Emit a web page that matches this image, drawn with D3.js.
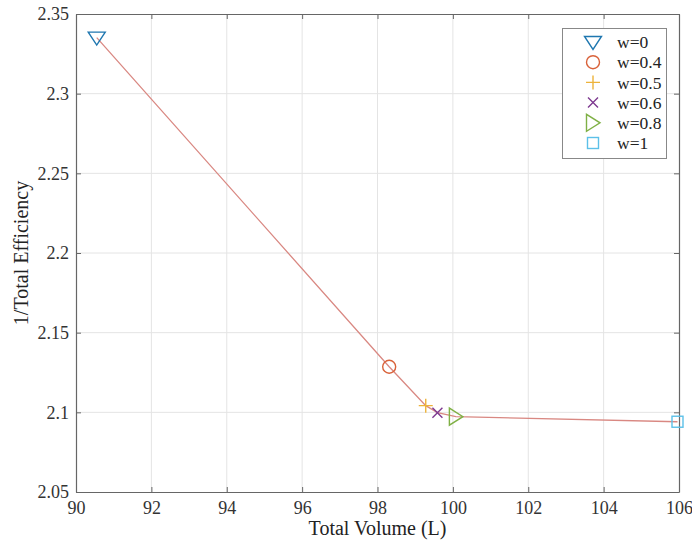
<!DOCTYPE html>
<html>
<head>
<meta charset="utf-8">
<script src="https://cdn.jsdelivr.net/npm/d3@7"></script>
<style>
  html, body { margin: 0; padding: 0; background: #fff; }
  svg { display: block; font-family: "Liberation Serif", "Times New Roman", serif; }
</style>
</head>
<body>
<svg id="chart" width="692" height="546"></svg>
<script>
// Pareto trade-off between total volume and inverse efficiency for each weight
const weights = ["w=0", "w=0.4", "w=0.5", "w=0.6", "w=0.8", "w=1"];
const volumes = [90.55, 98.31, 99.28, 99.59, 100.08, 105.96];
const invEff = [2.3352, 2.1286, 2.1042, 2.0998, 2.0973, 2.0941];
const xTicks = [90, 92, 94, 96, 98, 100, 102, 104, 106];
const yTicks = [2.05, 2.1, 2.15, 2.2, 2.25, 2.3, 2.35];

const markerShapes = ["triDown", "circle", "plus", "cross", "triRight", "square"];
const markerColors = ["#1f77b0", "#d9623a", "#edb33a", "#7e3a90", "#7fb045", "#5cc0e8"];

const svg = d3.select("#chart");
const plotL = 76, plotR = 679, plotT = 14, plotB = 492;

const x = d3.scaleLinear().domain([90, 106]).range([plotL, plotR]);
const y = d3.scaleLinear().domain([2.05, 2.35]).range([plotB, plotT]);

// grid
const grid = svg.append("g").attr("stroke", "#e4e4e4").attr("stroke-width", 1);
grid.selectAll(".gx").data(xTicks.slice(1, -1)).join("line")
  .attr("x1", d => x(d)).attr("x2", d => x(d)).attr("y1", plotT).attr("y2", plotB);
grid.selectAll(".gy").data(yTicks.slice(1, -1)).join("line")
  .attr("y1", d => y(d)).attr("y2", d => y(d)).attr("x1", plotL).attr("x2", plotR);

// axes with inward ticks on all four sides
const tickLen = 5;
const axisStyle = g => {
  g.select(".domain").attr("stroke", "#666").attr("stroke-width", 1.2);
  g.selectAll(".tick line").attr("stroke", "#666");
  g.selectAll(".tick text").attr("fill", "#333").style("font-size", "18px")
    .style("font-family", "'Liberation Serif', 'Times New Roman', serif");
};
svg.append("g").attr("transform", `translate(0,${plotB})`)
  .call(d3.axisBottom(x).tickValues(xTicks).tickFormat(d3.format("d"))
    .tickSizeInner(-tickLen).tickSizeOuter(0).tickPadding(9))
  .call(axisStyle);
svg.append("g").attr("transform", `translate(0,${plotT})`)
  .call(d3.axisTop(x).tickValues(xTicks).tickFormat("")
    .tickSizeInner(-tickLen).tickSizeOuter(0))
  .call(axisStyle);
svg.append("g").attr("transform", `translate(${plotL},0)`)
  .call(d3.axisLeft(y).tickValues(yTicks).tickFormat(d => String(+d.toFixed(2)))
    .tickSizeInner(-tickLen).tickSizeOuter(0).tickPadding(7))
  .call(axisStyle);
svg.append("g").attr("transform", `translate(${plotR},0)`)
  .call(d3.axisRight(y).tickValues(yTicks).tickFormat("")
    .tickSizeInner(-tickLen).tickSizeOuter(0))
  .call(axisStyle);

// axis titles
svg.append("text").attr("x", (plotL + plotR) / 2).attr("y", 535)
  .attr("text-anchor", "middle").attr("fill", "#222").style("font-size", "20px")
  .text("Total Volume (L)");
svg.append("text").attr("transform", `translate(28,${(plotT + plotB) / 2}) rotate(-90)`)
  .attr("text-anchor", "middle").attr("fill", "#222").style("font-size", "20px")
  .text("1/Total Efficiency");

// marker drawing
function drawMarker(g, shape, color) {
  const common = sel => sel.attr("fill", "none").attr("stroke", color).attr("stroke-width", 1.4);
  switch (shape) {
    case "triDown":
      g.append("path").attr("d", "M-8.5,-5.5 L8.5,-5.5 L0,7.5 Z").call(common); break;
    case "circle":
      g.append("circle").attr("r", 6.5).call(common); break;
    case "plus":
      g.append("path").attr("d", "M-7,0 L7,0 M0,-7 L0,7").call(common); break;
    case "cross":
      g.append("path").attr("d", "M-5,-5 L5,5 M-5,5 L5,-5").call(common); break;
    case "triRight":
      g.append("path").attr("d", "M-6.5,-8.5 L-6.5,8.5 L7,0 Z").call(common); break;
    case "square":
      g.append("rect").attr("x", -5.5).attr("y", -5.5).attr("width", 11).attr("height", 11).call(common); break;
  }
}

// trade-off curve
const pts = volumes.map((v, i) => [v, invEff[i]]);
svg.append("path").datum(pts)
  .attr("fill", "none").attr("stroke", "#d98882").attr("stroke-width", 1.3)
  .attr("d", d3.line().x(d => x(d[0])).y(d => y(d[1])));

pts.forEach((p, i) => {
  const g = svg.append("g").attr("transform", `translate(${x(p[0])},${y(p[1])})`);
  drawMarker(g, markerShapes[i], markerColors[i]);
});

// legend
const lg = svg.append("g");
lg.append("rect").attr("x", 562.5).attr("y", 28.5).attr("width", 104).attr("height", 130)
  .attr("fill", "#fff").attr("stroke", "#888").attr("stroke-width", 1);
weights.forEach((w, i) => {
  const cy = 42 + i * 20.2;
  const g = lg.append("g").attr("transform", `translate(593,${cy})`);
  drawMarker(g, markerShapes[i], markerColors[i]);
  lg.append("text").attr("x", 617).attr("y", cy).attr("dy", "0.35em")
    .attr("fill", "#222").style("font-size", "17.5px").text(w);
});
</script>
</body>
</html>
